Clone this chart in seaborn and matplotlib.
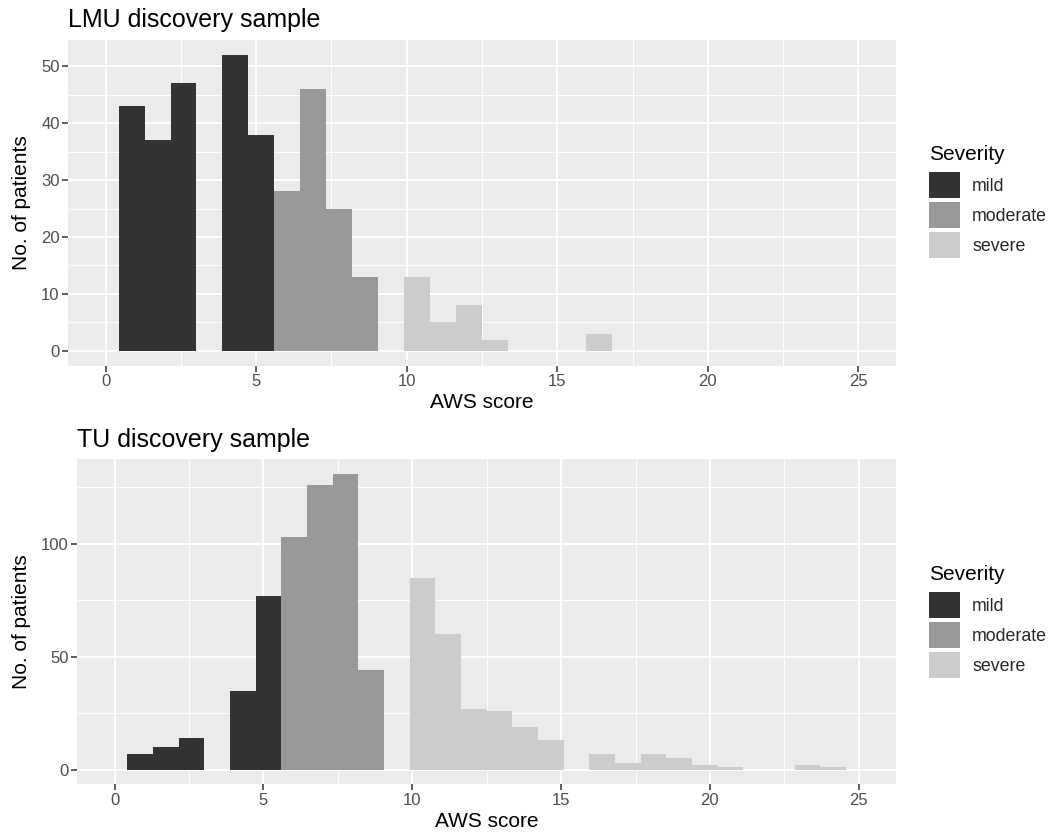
import numpy as np
import pandas as pd
import matplotlib
matplotlib.use("Agg")
import matplotlib.pyplot as plt
from matplotlib.patches import Patch
from matplotlib.ticker import MultipleLocator
import seaborn as sns

# ---- data ----
scores = list(range(1, 25))
lmu_counts = [43, 37, 47, 52, 38, 28, 46, 25, 13, 13, 5, 8, 2, 0, 0, 3, 0, 0, 0, 0, 0, 0, 0, 0]
tu_counts = [7, 10, 14, 35, 77, 103, 126, 131, 44, 85, 60, 27, 26, 19, 13, 7, 3, 7, 5, 2, 1, 0, 2, 1]
severity_levels = ["mild", "moderate", "severe"]
severity_colors = ["#333333", "#999999", "#CCCCCC"]
titles = ["LMU discovery sample", "TU discovery sample"]
legend_title = "Severity"
x_label = "AWS score"
y_label = "No. of patients"


def severity_of(s):
    if s <= 5:
        return "mild"
    if s <= 9:
        return "moderate"
    return "severe"


def make_df(counts):
    return pd.DataFrame({
        "score": [float(s) for s in scores],
        "count": [float(c) for c in counts],
        "severity": [severity_of(s) for s in scores],
    })


# ggplot-like binning: 30 bins over [0, 25]
bw = 25 / 29
edges = [float(k * bw - bw / 2) for k in range(31)]

sns.set_theme(style="darkgrid")
plt.rcParams["font.family"] = ["Liberation Sans", "DejaVu Sans"]

fig = plt.figure(figsize=(10.48, 8.32), dpi=100)
W, H = 1048, 832


def px_axes(left, top, right, bottom):
    return fig.add_axes([left / W, 1 - bottom / H, (right - left) / W, (bottom - top) / H])


ax1 = px_axes(68, 40, 896, 365.7)
ax2 = px_axes(77.3, 459, 896, 784.3)

palette = dict(zip(severity_levels, severity_colors))

for ax, counts, title, ymajor, ymax in [
    (ax1, lmu_counts, titles[0], 10, max(lmu_counts)),
    (ax2, tu_counts, titles[1], 50, max(tu_counts)),
]:
    df = make_df(counts)
    for lvl in severity_levels:
        sub = df[df["severity"] == lvl]
        sns.histplot(x=sub["score"], weights=sub["count"], bins=edges,
                     color=palette[lvl], alpha=1, linewidth=0, ax=ax)
    ax.set_facecolor("#EBEBEB")
    ax.set_xlim(-1.25, 26.25)
    ax.set_ylim(-0.05 * ymax, 1.05 * ymax)
    ax.xaxis.set_major_locator(MultipleLocator(5))
    ax.xaxis.set_minor_locator(MultipleLocator(2.5))
    ax.yaxis.set_major_locator(MultipleLocator(ymajor))
    ax.yaxis.set_minor_locator(MultipleLocator(ymajor / 2))
    ax.grid(which="major", color="white", linewidth=1.3)
    ax.grid(which="minor", color="white", linewidth=0.65)
    ax.set_axisbelow(True)
    for sp in ax.spines.values():
        sp.set_visible(False)
    ax.tick_params(which="major", length=4, width=1.1, color="#333333",
                   labelcolor="#4D4D4D", labelsize=12, pad=2)
    ax.tick_params(which="minor", length=0)
    ax.tick_params(axis="x", bottom=True)
    ax.tick_params(axis="y", left=True)
    ax.set_xlabel(x_label, fontsize=15, color="black", labelpad=3)
    ax.set_ylabel(y_label, fontsize=15, color="black", labelpad=7)
    ax.set_title(title, fontsize=18, loc="left", pad=9, color="black")

handles = [Patch(facecolor=c, edgecolor="none") for c in severity_colors]
for title_y, keys_top in ((155, 172), (575, 592)):
    fig.text(929 / W, 1 - title_y / H, legend_title, fontsize=15,
             ha="left", va="center", color="black")
    fig.legend(handles, severity_levels, loc="upper left",
               bbox_to_anchor=(929 / W, 1 - keys_top / H), frameon=False,
               fontsize=12.8, handlelength=1.74, handleheight=1.9,
               labelspacing=0.2, handletextpad=0.68,
               borderpad=0, borderaxespad=0)

fig.savefig("out.png", dpi=100)
